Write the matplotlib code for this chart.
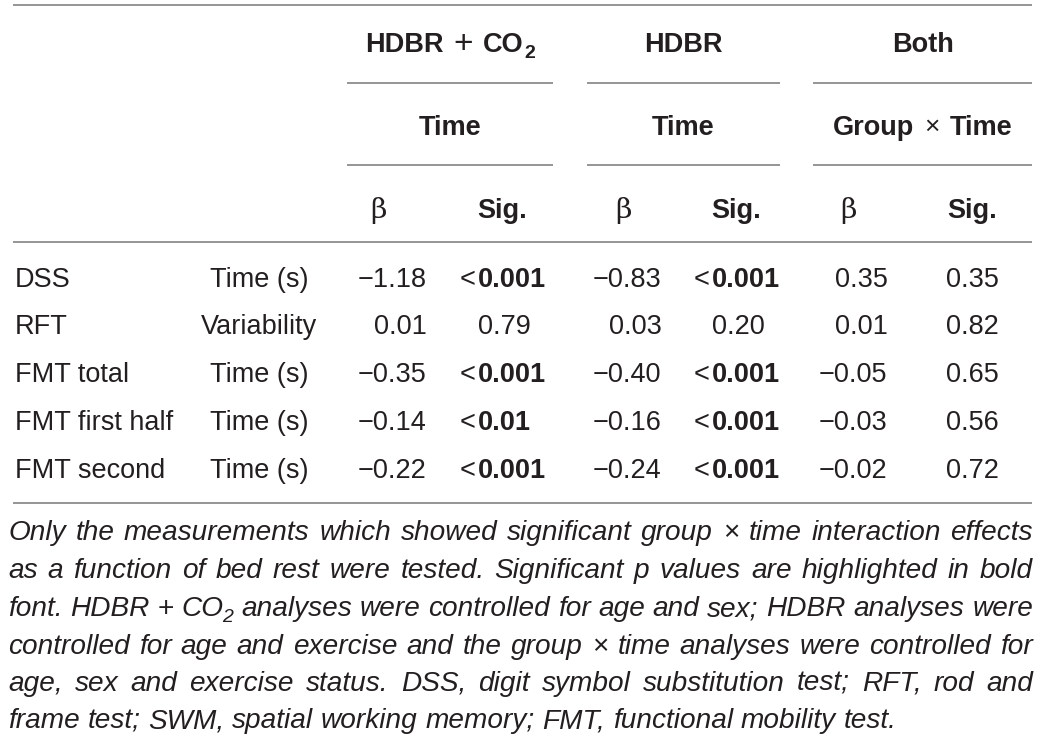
import matplotlib
matplotlib.use("Agg")
import matplotlib.pyplot as plt

# === table content ===
measures = ["DSS", "RFT", "FMT total", "FMT first half", "FMT second"]
outcomes = ["Time (s)", "Variability", "Time (s)", "Time (s)", "Time (s)"]

beta_co2 = [-1.18, 0.01, -0.35, -0.14, -0.22]
sig_co2 = ["<0.001", "0.79", "<0.001", "<0.01", "<0.001"]
beta_hdbr = [-0.83, 0.03, -0.40, -0.16, -0.24]
sig_hdbr = ["<0.001", "0.20", "<0.001", "<0.001", "<0.001"]
beta_both = [0.35, 0.01, -0.05, -0.03, -0.02]
sig_both = ["0.35", "0.82", "0.65", "0.56", "0.72"]

groups = ["HDBR + CO2", "HDBR", "Both"]
effects = ["Time", "Time", "Group × Time"]

caption_lines = [
    "Only the measurements which showed significant group × time interaction effects",
    "as a function of bed rest were tested. Significant p values are highlighted in bold",
    "font. HDBR + CO2 analyses were controlled for age and sex; HDBR analyses were",
    "controlled for age and exercise and the group × time analyses were controlled for",
    "age, sex and exercise status. DSS, digit symbol substitution test; RFT, rod and",
    "frame test; SWM, spatial working memory; FMT, functional mobility test.",
]

# === layout (pixels) ===
W, H = 1041, 739
INK = "#231f20"
RULE = "#8c8c8c"
FS = 19.5
FONT = "Liberation Sans"

R = dict(family=FONT, fontsize=FS, color=INK)
B = dict(family=FONT, fontsize=FS, color=INK, fontweight="bold")
CAP = dict(family=FONT, fontsize=20.2, color=INK, style="italic")

group_spans = [(347, 553), (587, 780), (813, 1032)]
beta_x = [378, 623, 848]
sig_x = [502, 736, 972]
dec_x = [389, 493, 624, 727, 850, 961]
row_base = [287, 334.5, 382, 430, 478]

fig = plt.figure(figsize=(W / 100, H / 100), dpi=100)
ax = fig.add_axes([0, 0, 1, 1])
ax.set_xlim(0, W)
ax.set_ylim(H, 0)
ax.axis("off")
rend = fig.canvas.get_renderer()


def width(s, kw):
    t = ax.text(0, 0, s, **kw)
    w = t.get_window_extent(renderer=rend).width
    t.remove()
    return w


def runs_width(runs):
    return sum(width(s, kw) + gap for s, kw, gap, dy in runs)


def draw_runs(x, y, runs, ha="left"):
    total = runs_width(runs)
    if ha == "center":
        x -= total / 2
    elif ha == "right":
        x -= total
    for s, kw, gap, dy in runs:
        x += gap
        ax.text(x, y + dy, s, ha="left", va="baseline", **kw)
        x += width(s, kw)


def hline(x0, x1, y):
    ax.plot([x0, x1], [y, y], color=RULE, lw=1.3, solid_capstyle="butt")


def fmt_beta(v):
    return f"{v:.2f}".replace("-", "\u2212")


def draw_value(xd, y, s, bold):
    # decimal point lands on xd
    kw = B if bold else R
    prefix = ""
    if s.startswith("<"):
        prefix, s = "<", s[1:]
    frac = s[s.index("."):]
    x0 = xd - (width(s, kw) - width(frac, kw))
    ax.text(x0, y, s, ha="left", va="baseline", **kw)
    if prefix:
        ax.text(x0 - 2, y, prefix, ha="right", va="baseline", **R)


# === rules ===
hline(13, 1032, 5)
for x0, x1 in group_spans:
    hline(x0, x1, 83)
    hline(x0, x1, 165)
hline(13, 1032, 242)
hline(13, 1032, 503)

# === header ===
small_b = dict(B, fontsize=14)
plus_kw = dict(R, fontsize=24)
times_kw = dict(R, fontsize=19)
for (x0, x1), g, e in zip(group_spans, groups, effects):
    cx = (x0 + x1) / 2
    if g.endswith("CO2"):
        runs = [("HDBR", B, 0, 0), ("+", plus_kw, 10, 1), ("CO", B, 10, 0), ("2", small_b, 0, 6)]
    else:
        runs = [(g, B, 0, 0)]
    draw_runs(cx, 52, runs, ha="center")
    if "×" in e:
        a, b = e.split(" × ")
        runs = [(a, B, 0, 0), ("×", times_kw, 10, -1), (b, B, 10, 0)]
    else:
        runs = [(e, B, 0, 0)]
    draw_runs(cx, 135, runs, ha="center")

beta_kw = dict(family="DejaVu Serif", fontsize=FS + 1, color=INK)
for bx, sx in zip(beta_x, sig_x):
    ax.text(bx, 218, "β", ha="center", va="baseline", **beta_kw)
    ax.text(sx, 218, "Sig.", ha="center", va="baseline", **B)

# === body ===
betas = [beta_co2, beta_hdbr, beta_both]
sigs = [sig_co2, sig_hdbr, sig_both]
for i, y in enumerate(row_base):
    ax.text(15, y, measures[i], ha="left", va="baseline", **R)
    ax.text(259, y, outcomes[i], ha="center", va="baseline", **R)
    for k in range(3):
        draw_value(dec_x[2 * k], y, fmt_beta(betas[k][i]), False)
        p = sigs[k][i]
        draw_value(dec_x[2 * k + 1], y, p, p.startswith("<") or float(p) < 0.05)

# === caption, justified ===
X0, X1 = 8, 1033
cap_base = [540, 578, 616, 654, 691, 728]
cap_up = dict(CAP, style="normal")
cap_small = dict(CAP, fontsize=14)


def word_runs(w):
    if w == "CO2":
        return [("CO", CAP, 0, 0), ("2", cap_small, -1, 6)]
    if w in ("+", "×"):
        return [(w, cap_up, 0, 0)]
    return [(w, CAP, 0, 0)]


for n, (line, y) in enumerate(zip(caption_lines, cap_base)):
    words = [word_runs(w) for w in line.split()]
    ws = [runs_width(r) for r in words]
    if n == len(caption_lines) - 1:
        gap = width("a a", CAP) - 2 * width("a", CAP)
    else:
        gap = (X1 - X0 - sum(ws)) / (len(words) - 1)
    x = X0
    for r, w in zip(words, ws):
        draw_runs(x, y, r)
        x += w + gap

fig.savefig("out.png", dpi=100)
